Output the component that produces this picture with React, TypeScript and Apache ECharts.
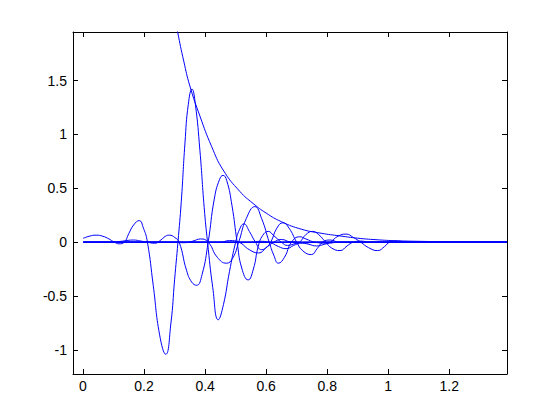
import { useEffect, useRef } from "react";
import * as echarts from "echarts";

const xTicks = [0, 0.2, 0.4, 0.6, 0.8, 1, 1.2];
const yTicks = [-1, -0.5, 0, 0.5, 1, 1.5];
const xMin = -0.0328;
const xMax = 1.389;
const yMin = -1.223;
const yMax = 1.95;

type Pt = [number, number];

const envelope: Pt[] = [
  [0.29, 2.25], [0.31, 1.95], [0.33, 1.68], [0.35, 1.45], [0.383, 1.17],
  [0.421, 0.89], [0.459, 0.67], [0.514, 0.47], [0.557, 0.36], [0.6, 0.27],
  [0.65, 0.19], [0.716, 0.12], [0.78, 0.083], [0.842, 0.058], [0.9, 0.037],
  [0.96, 0.023], [1.03, 0.013], [1.1, 0.008], [1.2, 0.004], [1.3, 0.002], [1.389, 0.001],
];

const curveA: Pt[] = [
  [0.0, 0.035], [0.02, 0.055], [0.043, 0.065], [0.065, 0.055], [0.085, 0.03],
  [0.103, 0.0], [0.118, -0.015], [0.135, 0.0], [0.15, 0.08], [0.166, 0.16],
  [0.184, 0.2], [0.198, 0.13], [0.211, 0.0], [0.23, -0.4], [0.251, -0.86],
  [0.271, -1.04], [0.288, -0.75], [0.3, -0.35], [0.311, 0.0], [0.322, 0.38],
  [0.334, 0.92], [0.345, 1.28], [0.357, 1.42], [0.368, 1.28], [0.383, 0.85],
  [0.397, 0.32], [0.408, 0.0], [0.425, -0.42], [0.443, -0.72], [0.46, -0.58],
  [0.48, -0.27], [0.5, 0.0], [0.513, 0.12], [0.527, 0.17], [0.545, 0.1],
  [0.565, 0.0], [0.585, -0.07], [0.605, -0.04], [0.625, 0.0], [0.65, 0.025],
  [0.68, 0.0], [0.72, -0.01], [0.76, 0.0], [0.9, 0.0], [1.1, 0.0], [1.389, 0.0],
];

const curveB: Pt[] = [
  [0.0, 0.0], [0.1, 0.0], [0.13, 0.01], [0.165, 0.02], [0.19, 0.01], [0.21, 0.0],
  [0.235, -0.01], [0.255, 0.02], [0.27, 0.055], [0.283, 0.065], [0.3, 0.045],
  [0.315, 0.0], [0.339, -0.26], [0.356, -0.37], [0.372, -0.4], [0.39, -0.3],
  [0.41, 0.0], [0.43, 0.4], [0.447, 0.58], [0.459, 0.62], [0.471, 0.57],
  [0.488, 0.34], [0.505, 0.0], [0.52, -0.24], [0.541, -0.35], [0.558, -0.25],
  [0.574, -0.04], [0.588, 0.06], [0.607, 0.1], [0.625, 0.06],
  [0.65, 0.0], [0.67, -0.03], [0.7, -0.01], [0.73, 0.0], [0.9, 0.0], [1.1, 0.0], [1.389, 0.0],
];

const curveC: Pt[] = [
  [0.0, 0.0], [0.2, 0.0], [0.3, 0.0], [0.33, -0.005], [0.36, 0.01], [0.385, 0.03],
  [0.41, 0.0], [0.44, -0.14], [0.47, -0.195], [0.49, -0.15], [0.51, 0.0],
  [0.535, 0.22], [0.563, 0.33], [0.585, 0.22], [0.61, 0.0], [0.625, -0.12],
  [0.64, -0.195], [0.66, -0.14], [0.683, 0.0], [0.71, 0.05], [0.73, 0.03],
  [0.76, 0.0], [0.8, -0.01], [0.84, 0.0], [1.0, 0.0], [1.2, 0.0], [1.389, 0.0],
];

const curveD: Pt[] = [
  [0.0, 0.0], [0.3, 0.0], [0.45, 0.0], [0.48, 0.015], [0.51, 0.0], [0.545, -0.07],
  [0.575, -0.1], [0.6, -0.05], [0.615, 0.0], [0.635, 0.13], [0.655, 0.18],
  [0.675, 0.13], [0.7, 0.0], [0.72, -0.08], [0.748, -0.115], [0.767, -0.06],
  [0.785, 0.0], [0.81, 0.02], [0.84, 0.0], [1.0, 0.0], [1.2, 0.0], [1.389, 0.0],
];

const curveE: Pt[] = [
  [0.0, 0.0], [0.3, 0.0], [0.55, 0.0], [0.58, 0.008], [0.61, 0.0], [0.64, -0.04],
  [0.665, -0.06], [0.69, -0.03], [0.71, 0.0], [0.73, 0.07], [0.752, 0.1],
  [0.772, 0.07], [0.795, 0.0], [0.815, -0.055], [0.842, -0.078], [0.865, -0.035],
  [0.885, 0.0], [0.91, 0.01], [0.94, 0.0], [1.1, 0.0], [1.389, 0.0],
];

const curveF: Pt[] = [
  [0.0, 0.0], [0.3, 0.0], [0.65, 0.0], [0.68, 0.005], [0.71, 0.0], [0.74, -0.02],
  [0.765, -0.035], [0.79, -0.02], [0.81, 0.0], [0.835, 0.055], [0.862, 0.075],
  [0.885, 0.045], [0.91, 0.0], [0.935, -0.05], [0.965, -0.078], [0.988, -0.04],
  [1.005, 0.0], [1.03, 0.01], [1.06, 0.0], [1.2, 0.0], [1.389, 0.0],
];

const baseline: Pt[] = [[0.005, 0], [0.5, 0], [1.0, 0], [1.389, 0]];

const allCurves: Pt[][] = [envelope, curveA, curveB, curveC, curveD, curveE, curveF];

export default function App() {
  const ref = useRef<HTMLDivElement>(null);
  useEffect(() => {
    const chart = echarts.init(ref.current!, null, { renderer: "svg" });
    const font = "'Liberation Sans', Arial, Helvetica, sans-serif";
    const axisLine = { show: true, onZero: false, lineStyle: { color: "#000", width: 1 } };
    const tick = (vals: number[]) => ({
      show: true,
      inside: true,
      length: 5,
      customValues: vals,
      lineStyle: { color: "#000", width: 1 },
    });
    const label = (vals: number[], m: number) => ({
      show: true,
      customValues: vals,
      color: "#000",
      fontSize: 14,
      fontFamily: font,
      margin: m,
      formatter: (v: number) => String(Math.round(v * 10) / 10),
    });
    chart.setOption({
      animation: false,
      backgroundColor: "#fff",
      grid: { left: 73, top: 32, width: 434, height: 342, containLabel: false },
      xAxis: [
        {
          type: "value", position: "bottom", min: xMin, max: xMax,
          axisLine, axisTick: tick(xTicks), axisLabel: label(xTicks, 5),
          splitLine: { show: false },
        },
        {
          type: "value", position: "top", min: xMin, max: xMax,
          axisLine, axisTick: tick(xTicks), axisLabel: { show: false },
          splitLine: { show: false },
        },
      ],
      yAxis: [
        {
          type: "value", position: "left", min: yMin, max: yMax,
          axisLine, axisTick: tick(yTicks), axisLabel: label(yTicks, 6),
          splitLine: { show: false },
        },
        {
          type: "value", position: "right", min: yMin, max: yMax,
          axisLine, axisTick: tick(yTicks), axisLabel: { show: false },
          splitLine: { show: false },
        },
      ],
      series: [
        {
          type: "line", data: baseline, showSymbol: false, silent: true,
          lineStyle: { color: "#0000ff", width: 1.6 },
        },
        ...allCurves.map((d) => ({
          type: "line",
          data: d,
          showSymbol: false,
          smooth: 0.5,
          clip: true,
          lineStyle: { color: "#0000ff", width: 1 },
        })),
      ],
    });
    return () => chart.dispose();
  }, []);
  return (
    <div
      ref={ref}
      style={{ position: "fixed", left: 0, top: 0, width: 560, height: 420, background: "#fff" }}
    />
  );
}
